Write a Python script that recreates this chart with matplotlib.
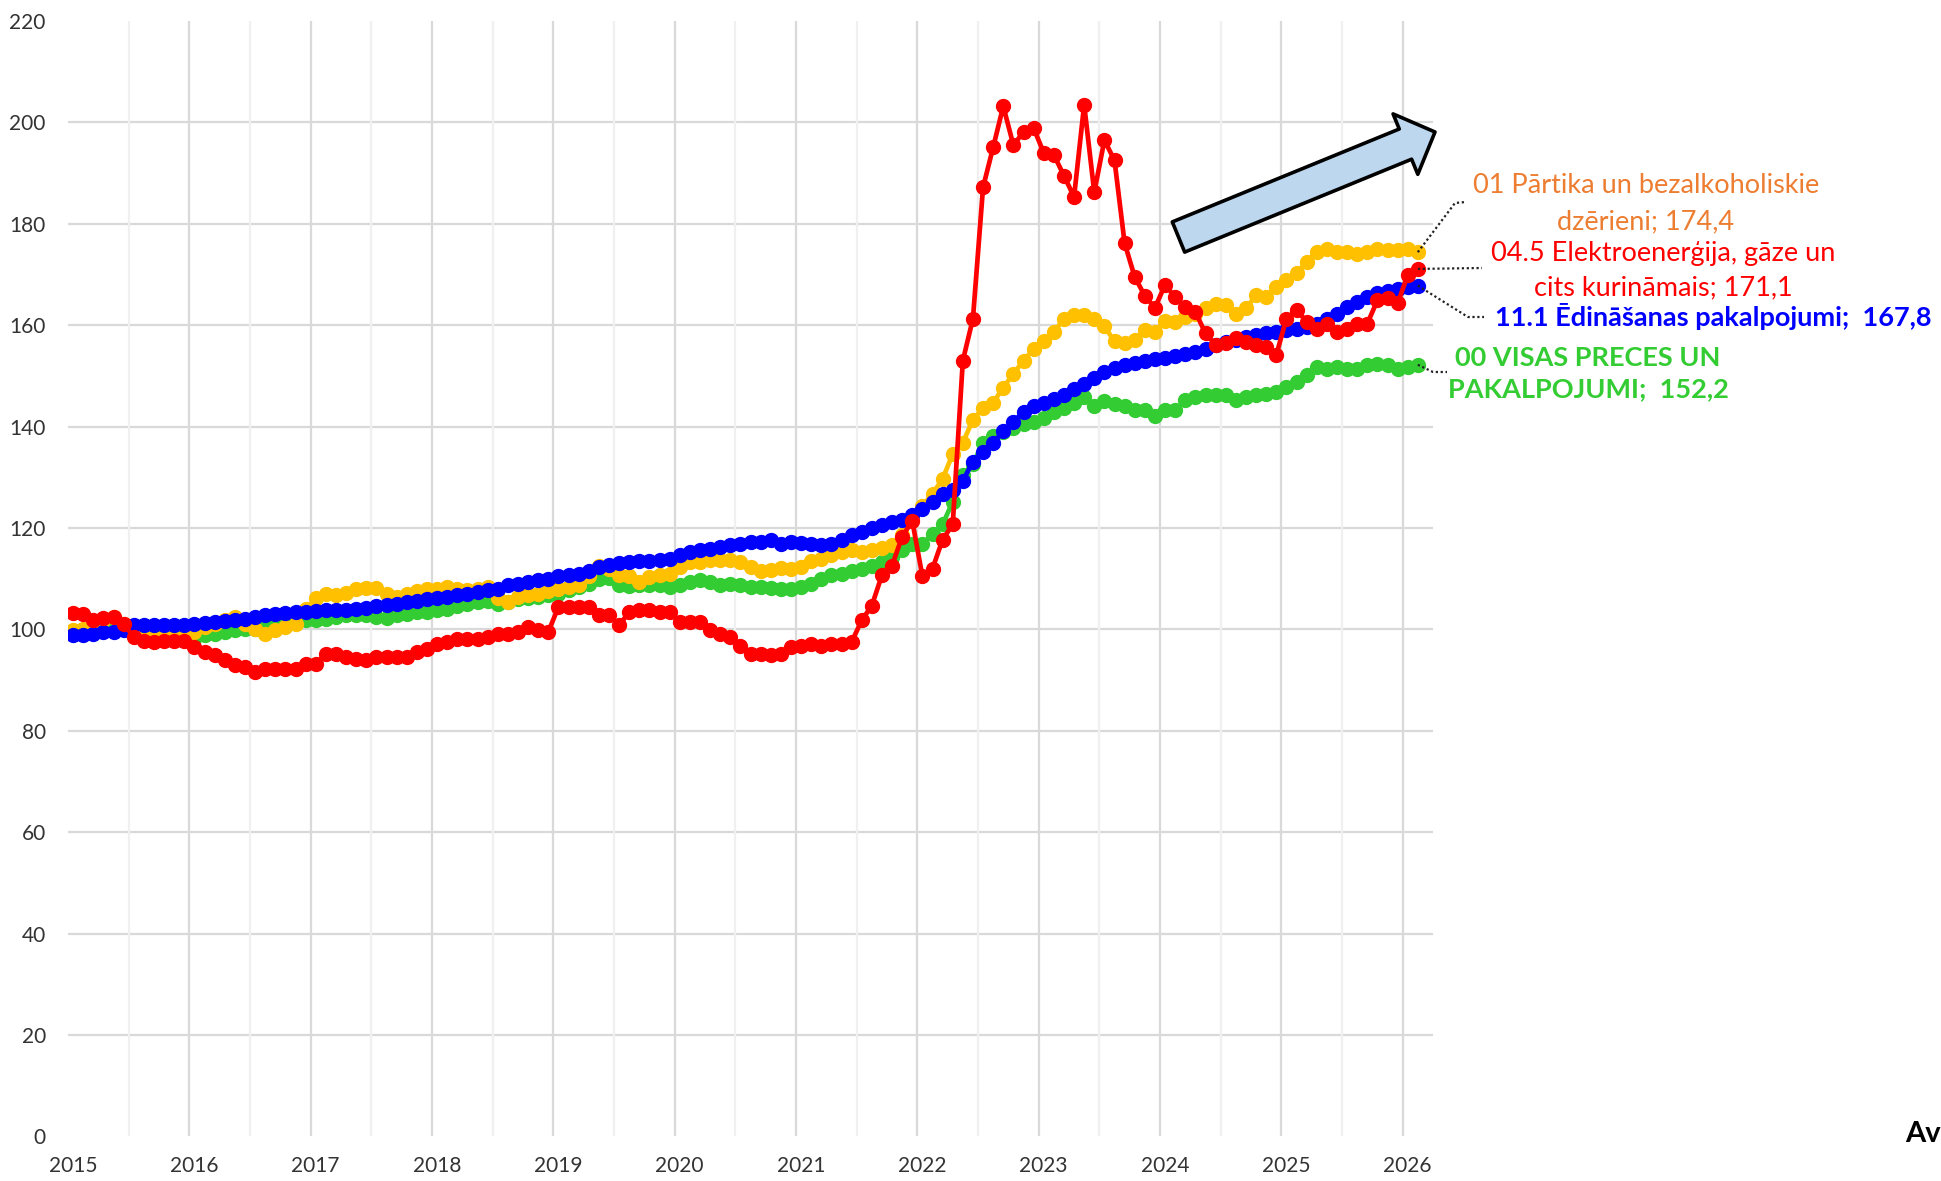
import numpy as np
import matplotlib
matplotlib.use('Agg')
import matplotlib.pyplot as plt
from matplotlib.lines import Line2D
from matplotlib.transforms import IdentityTransform

plt.rcParams['font.family'] = ['Lato', 'DejaVu Sans']

W, H = 1941, 1181

# Indeksi pa mēnešiem, 2015-01 .. 2026-02
years = list(range(2015, 2027))

food = [99.8, 100.1, 101.1, 101.8, 102.4, 101.1, 100.0, 99.5, 99.3, 99.3, 99.3, 99.1,
        99.5, 100.5, 101.0, 101.8, 102.4, 101.0, 100.1, 99.1, 99.8, 100.5, 101.0, 104.0,
        106.1, 107.0, 106.7, 107.2, 107.9, 108.2, 108.2, 107.0, 106.4, 107.0, 107.5, 107.9,
        107.9, 108.4, 108.0, 107.7, 108.0, 108.4, 106.1, 105.4, 106.4, 106.7, 107.0, 107.5,
        108.0, 108.4, 108.7, 110.5, 112.5, 112.0, 110.7, 110.5, 109.3, 110.3, 110.7, 111.0,
        112.3, 113.3, 113.3, 113.6, 113.6, 113.6, 113.3, 112.3, 111.6, 111.8, 112.1, 112.0,
        112.3, 113.4, 113.9, 114.6, 115.3, 115.6, 115.3, 115.6, 116.1, 116.6, 118.6, 122.0,
        124.4, 126.7, 129.7, 134.6, 136.8, 141.4, 143.6, 144.7, 147.7, 150.4, 153.0, 155.3,
        156.8, 158.6, 161.3, 162.0, 162.0, 161.3, 159.8, 156.8, 156.4, 157.1, 159.0, 158.6,
        160.9, 160.6, 161.6, 162.3, 163.3, 164.1, 163.9, 162.3, 163.3, 165.9, 165.6, 167.6,
        168.9, 170.2, 172.5, 174.5, 175.1, 174.5, 174.5, 174.1, 174.5, 175.1, 174.8, 174.8,
        175.1, 174.4]

energy = [103.3, 103.0, 101.8, 102.2, 102.4, 101.1, 98.5, 97.8, 97.5, 97.8, 97.8, 97.8,
          96.5, 95.5, 94.9, 93.9, 92.9, 92.6, 91.6, 92.2, 92.2, 92.2, 92.2, 93.2,
          93.2, 95.2, 95.2, 94.5, 94.2, 93.9, 94.5, 94.5, 94.5, 94.5, 95.5, 96.2,
          97.2, 97.5, 98.2, 98.2, 98.2, 98.5, 99.1, 99.1, 99.5, 100.5, 99.8, 99.5,
          104.4, 104.4, 104.4, 104.4, 102.8, 102.8, 100.8, 103.4, 103.8, 103.8, 103.4, 103.4,
          101.4, 101.4, 101.4, 99.8, 99.1, 98.5, 96.8, 95.2, 95.2, 94.9, 95.2, 96.5,
          96.8, 97.2, 96.8, 97.2, 97.2, 97.5, 101.8, 104.7, 110.7, 112.6, 118.3, 121.4,
          110.5, 112.0, 117.7, 120.7, 153.0, 161.3, 187.2, 195.1, 203.2, 195.5, 198.1, 198.9,
          194.0, 193.6, 189.5, 185.3, 203.5, 186.2, 196.5, 192.5, 176.2, 169.5, 165.8, 163.4,
          168.0, 165.5, 163.6, 162.6, 158.4, 156.1, 156.4, 157.4, 156.7, 156.1, 155.7, 154.1,
          161.3, 163.0, 160.7, 159.3, 160.3, 158.7, 159.3, 160.3, 160.3, 164.9, 165.3, 164.3,
          169.9, 171.1]

catering = [98.8, 98.8, 99.1, 99.5, 99.5, 99.8, 100.8, 100.9, 100.9, 100.9, 100.9, 100.9,
            101.1, 101.2, 101.4, 101.6, 101.8, 102.1, 102.4, 102.8, 103.1, 103.2, 103.4, 103.4,
            103.6, 103.8, 103.8, 103.9, 104.1, 104.2, 104.6, 104.9, 105.1, 105.4, 105.7, 105.9,
            106.1, 106.4, 106.7, 107.0, 107.4, 107.7, 107.9, 108.7, 109.0, 109.3, 109.7, 110.0,
            110.5, 110.8, 111.0, 111.6, 112.3, 112.8, 113.0, 113.2, 113.4, 113.4, 113.6, 113.9,
            114.6, 115.3, 115.6, 115.9, 116.2, 116.7, 116.9, 117.2, 117.2, 117.6, 116.9, 117.2,
            117.1, 116.9, 116.6, 116.9, 117.6, 118.6, 119.2, 120.0, 120.5, 121.2, 121.5, 122.6,
            123.7, 125.2, 126.7, 127.4, 129.3, 133.1, 135.0, 136.8, 139.1, 141.0, 142.9, 144.0,
            144.7, 145.5, 146.2, 147.4, 148.5, 149.6, 150.8, 151.5, 152.1, 152.6, 153.0, 153.4,
            153.6, 153.9, 154.4, 154.7, 155.4, 156.1, 156.7, 157.0, 157.7, 158.0, 158.4, 158.7,
            159.0, 159.3, 159.7, 160.3, 161.3, 162.3, 163.6, 164.6, 165.6, 166.3, 166.8, 167.2,
            167.6, 167.8]

total = [99.6, 99.9, 100.2, 100.4, 100.5, 100.3, 100.1, 100.0, 99.8, 99.7, 99.5, 99.3,
         98.2, 98.8, 99.1, 99.5, 99.8, 100.1, 100.1, 100.2, 100.8, 101.1, 101.4, 101.8,
         101.8, 102.1, 102.4, 102.8, 102.8, 102.8, 102.4, 102.2, 102.8, 103.1, 103.4, 103.4,
         103.8, 104.1, 104.7, 105.1, 105.4, 105.7, 105.1, 105.4, 105.9, 106.2, 106.4, 106.7,
         107.0, 107.7, 108.4, 109.0, 110.0, 110.1, 108.7, 108.6, 108.7, 108.7, 108.7, 108.4,
         108.7, 109.3, 109.7, 109.3, 108.7, 109.0, 108.7, 108.4, 108.4, 108.2, 108.0, 108.0,
         108.4, 109.0, 110.0, 110.7, 111.0, 111.6, 112.0, 112.6, 113.3, 114.3, 115.6, 116.9,
         116.9, 118.8, 120.7, 125.2, 130.5, 132.7, 136.8, 138.2, 139.0, 139.8, 140.5, 141.0,
         141.7, 142.9, 143.6, 144.7, 145.9, 144.0, 145.1, 144.4, 144.0, 143.2, 143.2, 142.1,
         143.2, 143.2, 145.2, 145.9, 146.2, 146.2, 146.2, 145.2, 145.9, 146.2, 146.5, 146.8,
         147.8, 148.8, 150.1, 151.8, 151.4, 151.8, 151.4, 151.4, 152.1, 152.4, 152.1, 151.4,
         151.8, 152.2]

food_label = '01 Pārtika un bezalkoholiskie\ndzērieni; 174,4'
energy_label = '04.5 Elektroenerģija, gāze un\ncits kurināmais; 171,1'
catering_label = '11.1 Ēdināšanas pakalpojumi;  167,8'
total_label = '00 VISAS PRECES UN\nPAKALPOJUMI;  152,2'

c_food, c_food_txt = '#FFC000', '#ED7D31'
c_energy = '#FF0000'
c_catering = '#0000FF'
c_total = '#33CC33'

x = np.arange(len(total))

fig = plt.figure(figsize=(W / 100, H / 100), dpi=100)
ax = fig.add_axes([68 / W, 1 - 1136.4 / H, (1433 - 68) / W, (1136.4 - 21) / H])
ax.set_xlim(-0.5, 134.5)
ax.set_ylim(0, 220)

# režģis: horizontāli 20..200, vertikāli gadi un pusgadi
for v in range(20, 201, 20):
    ax.axhline(v, color='#D9D9D9', lw=1.6, zorder=0)
for k in range(1, 12):
    ax.axvline(12 * k - 0.5, color='#D9D9D9', lw=1.6, zorder=0)
for k in range(0, 11):
    ax.axvline(12 * k + 5.5, color='#F0F0F0', lw=1.6, zorder=0)

for vals, col in [(total, c_total), (food, c_food), (catering, c_catering), (energy, c_energy)]:
    ax.plot(x, vals, '-o', color=col, lw=3.4, ms=10, mec=col, zorder=3)

for s in ax.spines.values():
    s.set_visible(False)
ax.set_xticks([12 * i for i in range(len(years))])
ax.set_xticklabels([str(y) for y in years])
ax.set_yticks(range(0, 221, 20))
ax.tick_params(length=0, labelsize=15, colors='#333333')
ax.tick_params(axis='x', pad=14)
ax.tick_params(axis='y', pad=16)


def fpx(px, py):
    return px / W, 1 - py / H


# bulta uz augšu
ax.annotate('', xy=(1435, H - 132), xytext=(1178.5, H - 237),
            xycoords='figure pixels', textcoords='figure pixels',
            arrowprops=dict(arrowstyle='simple,head_width=4.7,head_length=2.3,tail_width=2.35',
                            mutation_scale=10, fc='#BDD7EE', ec='black', lw=2.6,
                            shrinkA=0, shrinkB=0), annotation_clip=False)


def leader(val, pts):
    x0, y0 = ax.transData.transform((x[-1], val))
    xs = [x0] + [p[0] for p in pts]
    ys = [y0] + [H - p[1] for p in pts]
    fig.add_artist(Line2D(xs, ys, transform=IdentityTransform(), color='#222222',
                          lw=1.6, linestyle=(0, (1, 1.2))))


leader(food[-1], [(1455, 203), (1466, 202)])
leader(energy[-1], [(1482, 268)])
leader(catering[-1], [(1468, 317), (1484, 317)])
leader(total[-1], [(1433, 372), (1447, 372)])

fig.text(*fpx(1646, 203.5), food_label, color=c_food_txt, fontsize=19.5,
         ha='center', va='center', linespacing=1.55)
fig.text(*fpx(1663, 270.5), energy_label, color=c_energy, fontsize=19.5,
         ha='center', va='center', linespacing=1.47)
fig.text(*fpx(1713, 317), catering_label, color=c_catering, fontsize=19.5,
         fontweight='bold', ha='center', va='center')
fig.text(*fpx(1588, 373.5), total_label, color=c_total, fontsize=19.5,
         fontweight='bold', ha='center', va='center', linespacing=1.4)

fig.text(*fpx(1905, 1134), 'Av', fontsize=21, fontweight='bold', color='black',
         ha='left', va='center')

fig.savefig('out.png', dpi=100)
